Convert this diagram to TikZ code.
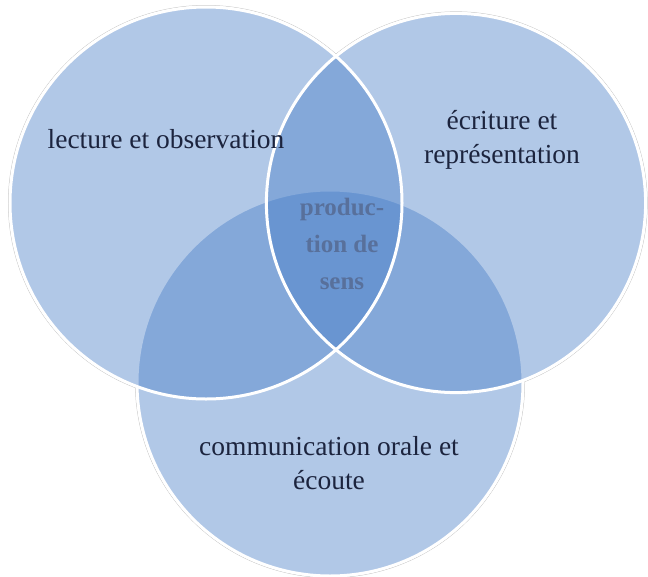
\documentclass[tikz,border=0pt]{standalone}
\usepackage{fontspec}
\setmainfont{Liberation Serif}
\definecolor{vennblue}{RGB}{70,125,200}
\definecolor{labeltext}{RGB}{28,36,62}
\definecolor{centertext}{RGB}{88,112,155}
\tikzset{
  rim/.style={draw=black!22, line width=0.8pt},
  backfill/.style={fill=white},
  venn/.style={fill=vennblue, fill opacity=0.42},
  border/.style={draw=white, line width=3pt},
  label/.style={text=labeltext, font=\fontsize{27.5}{34}\selectfont, align=center},
  centerlabel/.style={text=centertext, font=\bfseries\fontsize{25}{37}\selectfont, align=center}
}
\begin{document}
\begin{tikzpicture}[x=1pt,y=-1pt]
\useasboundingbox (0,0) rectangle (648,576);
\coordinate (L) at (206,203);
\coordinate (R) at (456,203);
\coordinate (B) at (330,383);
% outer grey rims
\draw[rim] (L) circle[radius=197.6pt];
\draw[rim] (R) circle[radius=191.2pt];
\draw[rim] (B) circle[radius=194.6pt];
% white backing to hide inner rims
\fill[backfill] (L) circle[radius=197.2pt];
\fill[backfill] (R) circle[radius=190.8pt];
\fill[backfill] (B) circle[radius=194.2pt];
% bottom circle
\fill[venn] (B) circle[radius=193pt];
\draw[border] (B) circle[radius=193pt];
% top circles
\fill[venn] (L) circle[radius=196pt];
\fill[venn] (R) circle[radius=189.6pt];
\draw[border] (L) circle[radius=196pt];
\draw[border] (R) circle[radius=189.6pt];
% labels
\node[label] (lo) at (166,139) {lecture et observation};
\node[label] (er) at (502,140) {écriture et\\représentation};
\node[label] (co) at (329,463) {communication orale et\\écoute};
\node[centerlabel] (ps) at (342,244) {produc-\\tion de\\sens};
\end{tikzpicture}
\end{document}
